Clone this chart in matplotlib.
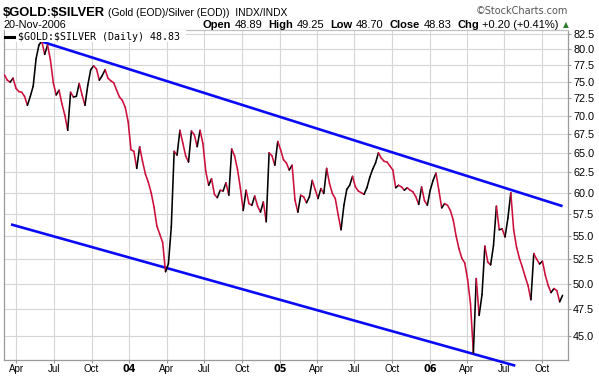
import numpy as np
import pandas as pd
import matplotlib
matplotlib.use("Agg")
import matplotlib.pyplot as plt
import matplotlib.dates as mdates
from matplotlib.collections import LineCollection
from matplotlib.lines import Line2D
from matplotlib.patches import Rectangle
from matplotlib.ticker import FixedLocator, FormatStrFormatter, NullLocator

W, H = 599, 376

# weekly closes of the gold/silver ratio
start_date = "2003-03-03"
ratio = [
    76.0, 75.2, 74.9, 75.5, 74.0, 73.5, 73.4, 72.8, 71.5, 72.8,
    74.3, 78.5, 80.7, 81.3, 79.2, 80.7, 78.3, 74.8, 73.0, 73.7,
    71.7, 70.1, 68.0, 73.4, 72.7, 72.8, 74.7, 73.0, 71.5, 74.5,
    76.8, 77.4, 76.9, 75.2, 75.9, 76.8, 75.5, 75.1, 74.8, 73.7,
    72.7, 72.2, 71.2, 69.2, 65.4, 65.2, 63.0, 65.8, 63.9, 62.3,
    61.3, 60.0, 58.3, 56.1, 55.2, 54.3, 51.2, 52.0, 56.0, 65.2,
    64.7, 68.0, 66.3, 64.6, 63.8, 67.9, 67.4, 65.8, 68.0, 66.2,
    62.6, 60.9, 61.7, 59.8, 59.4, 60.3, 60.2, 61.2, 59.7, 65.5,
    64.6, 62.9, 60.6, 57.9, 60.3, 58.7, 58.5, 59.6, 58.4, 57.7,
    58.9, 56.6, 65.0, 64.6, 63.4, 66.5, 65.4, 64.1, 63.7, 62.8,
    63.4, 59.1, 57.7, 59.7, 59.5, 58.8, 59.5, 61.5, 60.4, 59.3,
    60.5, 59.9, 63.0, 61.1, 59.9, 59.3, 57.4, 55.7, 58.5, 60.4,
    60.9, 62.0, 60.7, 60.2, 60.0, 59.8, 60.6, 61.9, 62.9, 63.7,
    65.0, 64.3, 63.9, 63.8, 63.3, 62.8, 60.6, 60.9, 60.7, 60.3,
    60.6, 60.3, 60.1, 59.5, 58.6, 60.7, 59.05, 58.5, 60.3, 61.5,
    62.4, 60.3, 58.2, 58.7, 58.5, 57.9, 56.8, 55.0, 53.6, 52.6,
    52.1, 50.4, 48.0, 43.5, 50.5, 46.9, 48.9, 53.9, 52.2, 51.9,
    54.0, 58.4, 55.7, 55.8, 54.9, 57.0, 60.0, 55.7, 53.8, 52.6,
    51.7, 50.7, 49.8, 48.4, 53.1, 52.5, 52.0, 52.3, 50.85, 49.8,
    49.1, 49.5, 49.3, 48.2, 48.83,
]
dates = pd.date_range(start_date, periods=len(ratio), freq="7D")

# hand-drawn trend channel
upper_dates = ["2003-05-26", "2006-11-20"]
upper_vals = [81.4, 58.4]
lower_dates = ["2003-03-19", "2006-07-28"]
lower_vals = [56.3, 42.4]

y_ticks = np.arange(45.0, 82.6, 2.5)
x_ticks = pd.date_range("2003-04-01", "2006-10-01", freq="QS")
x_labels = [d.strftime("%y") if d.month == 1 else d.strftime("%b") for d in x_ticks]

RED = "#cc0f3c"
BLUE = "#0a0af5"
GRID = "#d6d6d6"
AXIS = "#9a9a9a"


def fx(px):
    return px / W


def fy(py):
    return 1 - py / H


fig = plt.figure(figsize=(W / 100, H / 100), dpi=100)
fig.patch.set_facecolor("white")
ax = fig.add_axes([fx(4), fy(359.5), fx(567.5 - 4), (359.5 - 29.5) / H])

ax.set_yscale("log")
ax.set_ylim(42.93, 83.25)
ax.set_xlim(pd.Timestamp("2003-03-02"), pd.Timestamp("2006-12-02"))

ax.plot(pd.to_datetime(upper_dates), upper_vals, color=BLUE, lw=1.9,
        solid_capstyle="butt", zorder=3)
ax.plot(pd.to_datetime(lower_dates), lower_vals, color=BLUE, lw=1.9,
        solid_capstyle="butt", zorder=3, clip_on=False)

# price line: red on down moves, black on up moves
xn = mdates.date2num(dates)
pts = np.column_stack([xn, ratio])
segs = np.stack([pts[:-1], pts[1:]], axis=1)
seg_colors = np.where(np.diff(ratio) < 0, RED, "black")
lc = LineCollection(segs, colors=seg_colors, linewidths=1.15,
                    capstyle="round", joinstyle="round", zorder=4)
ax.add_collection(lc)

ax.yaxis.set_major_locator(FixedLocator(y_ticks))
ax.yaxis.set_major_formatter(FormatStrFormatter("%.1f"))
ax.yaxis.set_minor_locator(NullLocator())
ax.yaxis.tick_right()
ax.set_xticks(x_ticks)
ax.set_xticklabels(x_labels)
ax.xaxis.set_minor_locator(NullLocator())

for lab, d in zip(ax.get_xticklabels(), x_ticks):
    lab.set_fontfamily("Liberation Sans")
    if d.month == 1:
        lab.set_fontweight("bold")
        lab.set_fontfamily("DejaVu Sans")
for lab in ax.get_yticklabels():
    lab.set_fontfamily("Liberation Sans")

ax.tick_params(axis="x", labelsize=7, length=2, color=AXIS, pad=1)
ax.tick_params(axis="y", labelsize=7.8, length=2, color=AXIS, pad=2)
ax.grid(True, color=GRID, lw=0.8, zorder=0)
ax.set_axisbelow(True)

for side in ["left", "bottom", "top"]:
    ax.spines[side].set_color(AXIS)
    ax.spines[side].set_linewidth(0.9)
ax.spines["top"].set_color("#c0c0c0")
ax.spines["right"].set_color(AXIS)
ax.spines["right"].set_linestyle((0, (1, 1)))
ax.spines["right"].set_linewidth(0.9)

# legend box in the plot corner
fig.add_artist(Rectangle((fx(4.6), fy(41.5)), fx(186 - 4.6), (41.5 - 30.2) / H,
                         transform=fig.transFigure, facecolor="white",
                         edgecolor="none", zorder=5))
fig.add_artist(Line2D([fx(5), fx(14)], [fy(36.5), fy(36.5)], color="black",
                      lw=2.2, transform=fig.transFigure, zorder=6))
fig.text(fx(18.5), fy(36.5), "$GOLD:$SILVER (Daily) 48.83", fontsize=7.2,
         family="DejaVu Sans Mono", va="center", ha="left", zorder=6,
         parse_math=False)

# header
fig.text(fx(3), fy(16), "$GOLD:$SILVER", fontsize=9.4, fontweight="bold",
         family="Liberation Sans", va="baseline", parse_math=False)
fig.text(fx(108.5), fy(16), "(Gold (EOD)/Silver (EOD))  INDX/INDX", fontsize=7.4,
         family="Liberation Sans", va="baseline", parse_math=False)
fig.text(fx(3), fy(27.5), "20-Nov-2006", fontsize=7.8, family="Liberation Sans",
         va="baseline")
fig.text(fx(568), fy(14), "\u00a9StockCharts.com", fontsize=7, color="#555555",
         family="DejaVu Sans", ha="right", va="baseline")

pieces = [("Open", "bold"), ("48.89", "normal"), ("High", "bold"), ("49.25", "normal"),
          ("Low", "bold"), ("48.70", "normal"), ("Close", "bold"), ("48.83", "normal"),
          ("Chg", "bold"), ("+0.20 (+0.41%)", "normal")]
renderer = fig.canvas.get_renderer()
arts = []
for s, w in pieces:
    t = fig.text(0, fy(27.5), s, fontsize=8, fontweight=w, family="Liberation Sans",
                 va="baseline", ha="left", parse_math=False)
    arts.append(t)
widths = [t.get_window_extent(renderer).width for t in arts]
gaps = [3.5 if i % 2 == 0 else 6 for i in range(len(arts) - 1)]
total = sum(widths) + sum(gaps)
xpos = 559 - total
for i, t in enumerate(arts):
    t.set_x(fx(xpos))
    xpos += widths[i] + (gaps[i] if i < len(gaps) else 0)
fig.text(fx(563), fy(27.5), "\u25b2", fontsize=5.5, color="#2f7d32",
         family="DejaVu Sans", va="baseline", ha="left")

fig.savefig("out.png", dpi=100, facecolor="white")
